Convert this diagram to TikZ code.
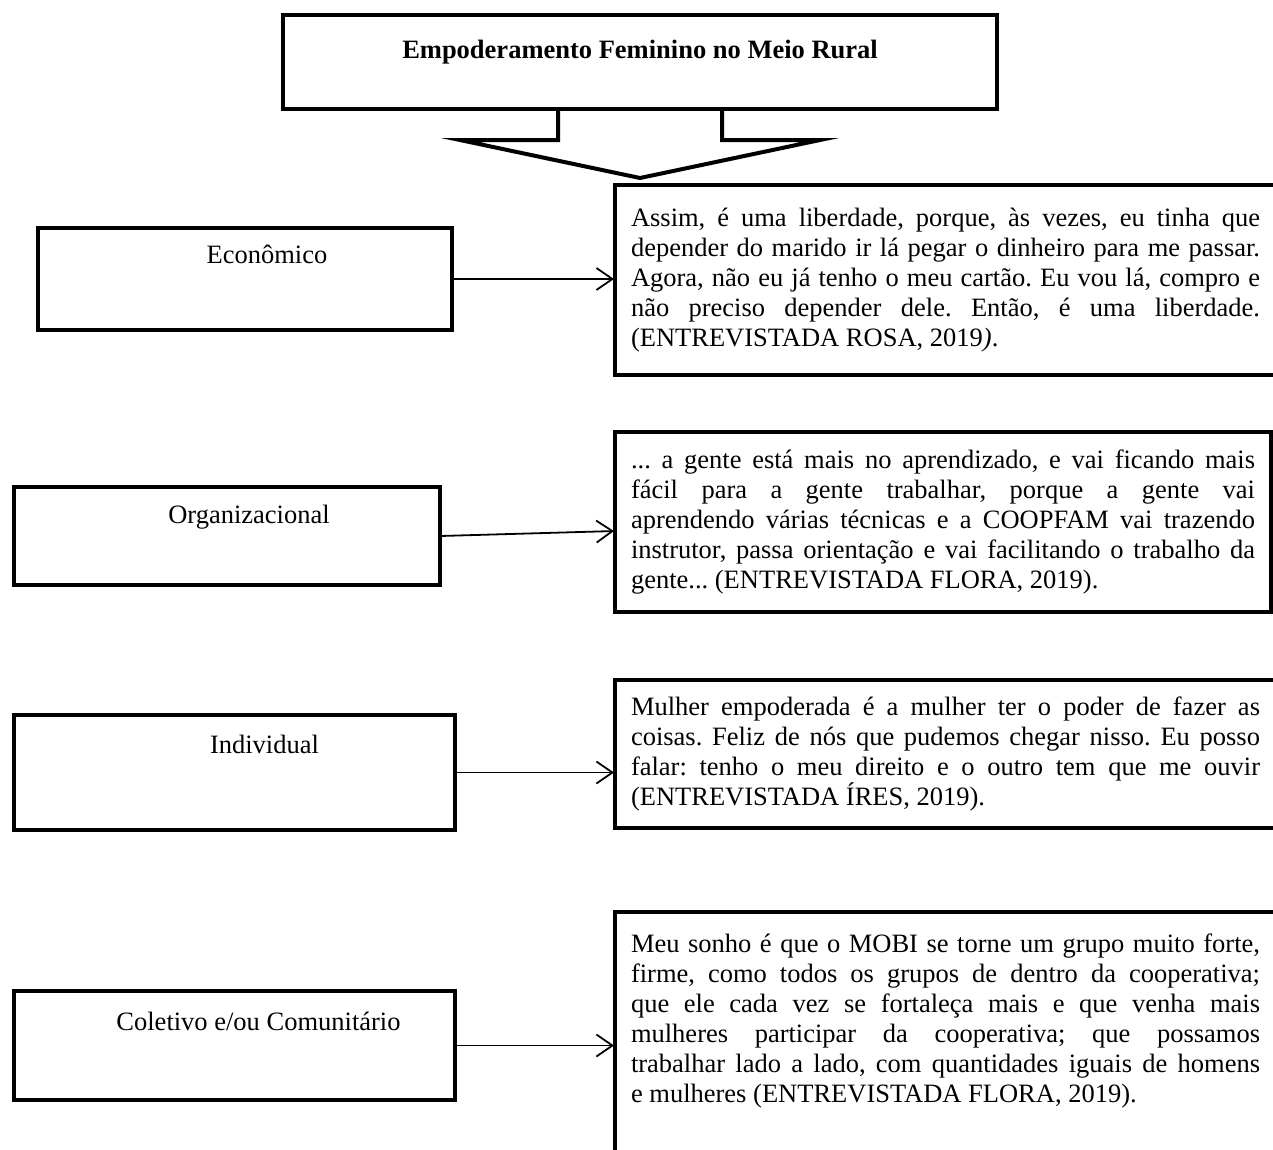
\documentclass[tikz,border=0pt]{standalone}
\usepackage{fontspec}
\setmainfont{Liberation Serif}
\usetikzlibrary{arrows.meta}

\newcommand{\letra}{\fontsize{26.5}{30}\selectfont\frenchspacing}

\begin{document}
\begin{tikzpicture}[x=1pt, y=-1pt,
    caixa/.style={draw, black, line width=4.5pt, outer sep=0pt, inner ysep=0pt, anchor=north west, font=\letra},
    fala/.style={draw, black, line width=4.5pt, outer sep=0pt, inner xsep=16pt, inner ysep=0pt, anchor=north west, font=\letra},
    seta/.style={line width=1.8pt, -{Straight Barb[length=16pt, width=22pt]}, shorten >=1pt}]
    \useasboundingbox (0,0) rectangle (1273,1149);

    \draw
    (283, 15) node[caixa, minimum width=714pt, text height=43pt, text depth=51pt](T){\bfseries Empoderamento Feminino no Meio Rural}
    (38, 228) node[caixa, minimum width=414pt, text height=35pt, text depth=67pt](E){\hspace*{44pt}Econômico}
    (14, 487) node[caixa, minimum width=426pt, text height=36pt, text depth=62pt](O){\hspace*{44pt}Organizacional}
    (14, 715) node[caixa, minimum width=441pt, text height=38pt, text depth=77pt](I){\hspace*{60pt}Individual}
    (14, 991) node[caixa, minimum width=441pt, text height=39pt, text depth=70pt](C){\hspace*{48pt}Coletivo e/ou Comunitário};

    \draw
    (615, 185) node[fala, minimum height=190pt](Q1){\parbox{629pt}{%
      Assim, é uma liberdade, porque, às vezes, eu tinha que\linebreak
      depender do marido ir lá pegar o dinheiro para me passar.\linebreak
      Agora, não eu já tenho o meu cartão. Eu vou lá, compro e\linebreak
      não preciso depender dele. Então, é uma liberdade.\linebreak
      (ENTREVISTADA ROSA, 2019\textit{)}.}\hspace*{21pt}}
    (615, 432) node[fala, minimum height=180pt](Q2){\parbox{624pt}{%
      ... a gente está mais no aprendizado, e vai ficando mais\linebreak
      fácil para a gente trabalhar, porque a gente vai\linebreak
      aprendendo várias técnicas e a COOPFAM vai trazendo\linebreak
      instrutor, passa orientação e vai facilitando o trabalho da\linebreak
      gente... (ENTREVISTADA FLORA, 2019).}}
    (615, 680) node[fala, minimum height=148pt](Q3){\parbox{629pt}{%
      Mulher empoderada é a mulher ter o poder de fazer as\linebreak
      coisas. Feliz de nós que pudemos chegar nisso. Eu posso\linebreak
      falar: tenho o meu direito e o outro tem que me ouvir\linebreak
      (ENTREVISTADA ÍRES, 2019).}\hspace*{21pt}}
    (615, 912) node[fala, minimum height=260pt](Q4){\parbox{629pt}{%
      Meu sonho é que o MOBI se torne um grupo muito forte,\linebreak
      firme, como todos os grupos de dentro da cooperativa;\linebreak
      que ele cada vez se fortaleça mais e que venha mais\linebreak
      mulheres participar da cooperativa; que possamos\linebreak
      trabalhar lado a lado, com quantidades iguais de homens\linebreak
      e mulheres (ENTREVISTADA FLORA, 2019).\par\vspace*{43pt}}\hspace*{21pt}};

    % seta grande abaixo do titulo
    \draw[line width=4pt] (T.south) ++(-82,0) -- ++(0,31) -- ++(-98,0) -- ++(180,38) -- ++(180,-38) -- ++(-98,0) -- ++(0,-31);

    \draw[seta] (E.east) -- (E.east -| Q1.west);
    \draw[seta] (O.east) -- ([yshift=-9pt]Q2.west);
    \draw[seta] (I.east) -- (I.east -| Q3.west);
    \draw[seta] (C.east) -- (C.east -| Q4.west);

\end{tikzpicture}
\end{document}
